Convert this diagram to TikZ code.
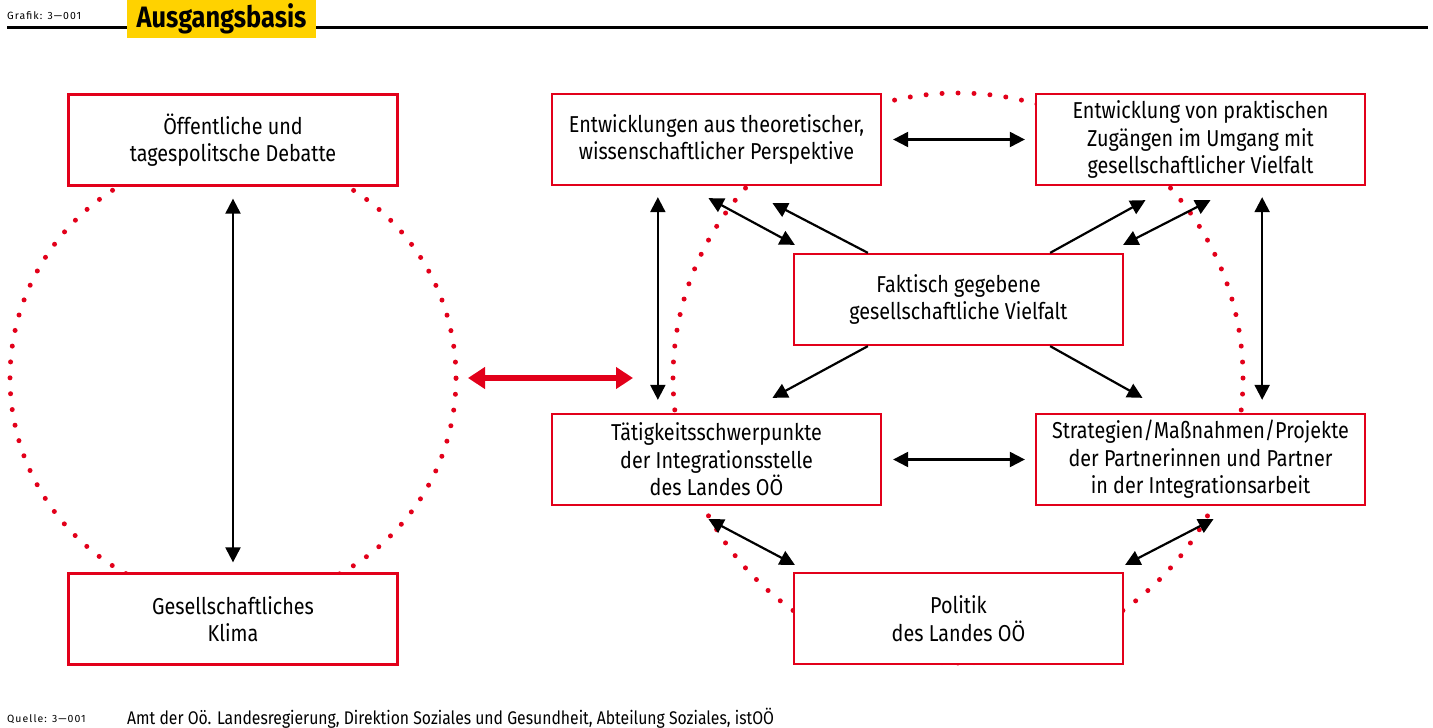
\documentclass[tikz,border=0pt]{standalone}
\usepackage{fontspec}
\setmainfont{Fira Sans}
\newfontfamily\schmal[FakeStretch=0.86]{Fira Sans}
\newfontfamily\klein[LetterSpace=10]{Fira Sans}
\usetikzlibrary{arrows.meta,positioning}
\definecolor{ooerot}{RGB}{226,0,26}
\definecolor{ooegelb}{RGB}{255,210,0}

\begin{document}
\begin{tikzpicture}[x=1pt,y=-1pt,node distance=160pt and 242pt,on grid,
    box/.style={draw=ooerot,line width=2.3pt,fill=white,minimum width=329pt,minimum height=91pt,
      inner sep=0pt,align=center,font=\schmal\fontsize{23}{27.5}\selectfont},
    pfeil/.style={line width=2.2pt,-{Triangle[length=15pt,width=15pt]}},
    doppel/.style={line width=2.2pt,{Triangle[length=15pt,width=15pt]}-{Triangle[length=15pt,width=15pt]}},
    punkte/.style={draw=ooerot,line width=5pt,line cap=round,dash pattern=on 0pt off #1},
    punkte/.default=16pt]
   \useasboundingbox (0,0) rectangle (1433,728);

   % Kopf
   \draw[line width=3pt] (7,27) -- (1428,27);
   \node[fill=ooegelb,minimum width=189pt,minimum height=38pt,inner sep=0pt,
     font=\schmal\bfseries\fontsize{29.5}{29.5}\selectfont] (titel) at (221.5,19) {Ausgangsbasis};
   \node[anchor=base west,inner sep=0pt,font=\klein\fontsize{10.5}{12}\selectfont] (grafik) at (7,19.5) {Grafik: 3—001};

   % Kreise
   \coordinate (linksmitte) at (233,378);
   \coordinate (rechtsmitte) at (958,378);
   \draw[punkte=15.92pt] (linksmitte) circle[radius=223pt];
   \draw[punkte=15.99pt] (rechtsmitte) circle[radius=285pt];

   % Kaesten
   \node[box] (oeff) at (233,140) {Öffentliche und\\tagespolitsche Debatte};
   \node[box] (klima) [below=479pt of oeff] {Gesellschaftliches\\Klima};
   \node[box] (fakt) at (958.5,299.5) {Faktisch gegebene\\gesellschaftliche Vielfalt};
   \node[box] (entw) [above left=of fakt] {Entwicklungen aus theoretischer,\\wissenschaftlicher Perspektive};
   \node[box] (prakt) [above right=of fakt] {Entwicklung von praktischen\\Zugängen im Umgang mit\\gesellschaftlicher Vielfalt};
   \node[box] (taet) [below left=of fakt] {Tätigkeitsschwerpunkte\\der Integrationsstelle\\des Landes OÖ};
   \node[box] (strat) [below right=of fakt] {Strategien/Maßnahmen/Projekte\\der Partnerinnen und Partner\\in der Integrationsarbeit};
   \node[box] (politik) [below=319pt of fakt] {Politik\\des Landes OÖ};

   % Pfeile
   \draw[doppel] ([yshift=-12pt]oeff.south) -- ([yshift=10pt]klima.north);
   \draw[line width=6pt,ooerot,{Triangle[length=17pt,width=21pt]}-{Triangle[length=17pt,width=21pt]}]
     ([xshift=235pt]linksmitte) -- ([xshift=-325pt]rechtsmitte);
   \draw[doppel] ([xshift=11pt]entw.east) -- ([xshift=-10pt]prakt.west);
   \draw[doppel] ([xshift=11pt]taet.east) -- ([xshift=-10pt]strat.west);
   \draw[doppel] ([xshift=107pt,yshift=-11pt]entw.south west) -- ([xshift=107pt,yshift=13pt]taet.north west);
   \draw[doppel] ([xshift=-104pt,yshift=-11pt]prakt.south east) -- ([xshift=-104pt,yshift=13pt]strat.north east);
   \draw[doppel] ([xshift=-8pt,yshift=-12pt]entw.south) -- ([xshift=2pt,yshift=8pt]fakt.north west);
   \draw[doppel] ([xshift=10pt,yshift=-14pt]prakt.south) -- ([xshift=-1pt,yshift=8pt]fakt.north east);
   \draw[pfeil] ([xshift=75pt]fakt.north west) -- ([xshift=56pt,yshift=-17pt]entw.south);
   \draw[pfeil] ([xshift=-74pt]fakt.north east) -- ([xshift=-55pt,yshift=-14pt]prakt.south);
   \draw[pfeil] ([xshift=75pt]fakt.south west) -- ([xshift=56pt,yshift=15pt]taet.north);
   \draw[pfeil] ([xshift=-74pt]fakt.south east) -- ([xshift=-58pt,yshift=15pt]strat.north);
   \draw[doppel] ([xshift=-8pt,yshift=-13pt]taet.south) -- ([xshift=2pt,yshift=7pt]politik.north west);
   \draw[doppel] ([xshift=13pt,yshift=-13pt]strat.south) -- ([xshift=1pt,yshift=7pt]politik.north east);

   % Fuss
   \node[anchor=base west,inner sep=0pt,font=\klein\fontsize{10.5}{12}\selectfont] (quelle) at (7,722) {Quelle: 3—001};
   \node[anchor=base west,inner sep=0pt,font=\schmal\fontsize{18.3}{20}\selectfont] (amt) at (127,724)
     {Amt der Oö. Landesregierung, Direktion Soziales und Gesundheit, Abteilung Soziales, istOÖ};
\end{tikzpicture}
\end{document}
